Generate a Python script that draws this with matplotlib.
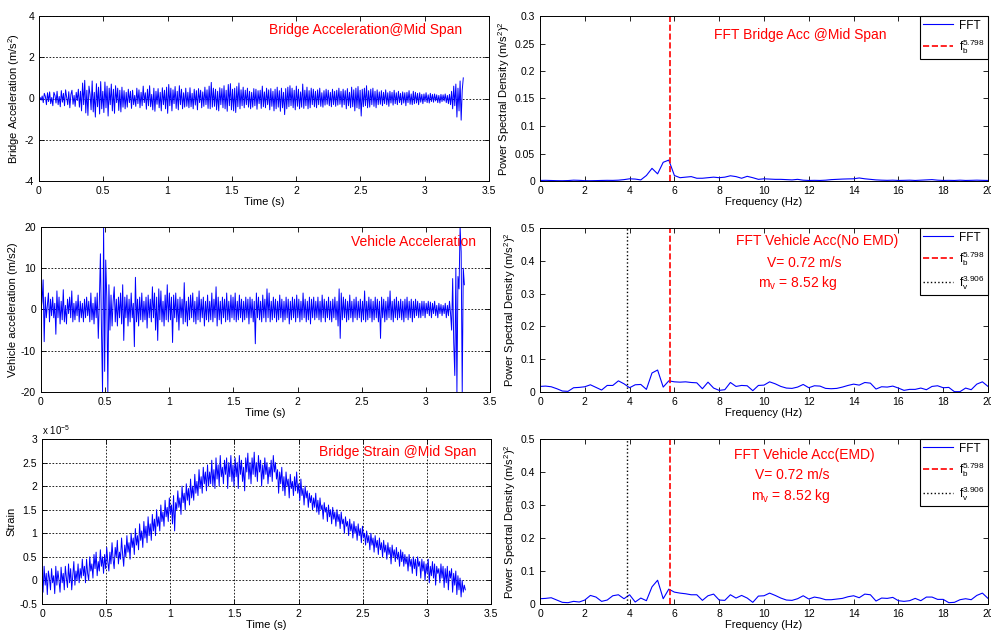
import numpy as np
import matplotlib
matplotlib.use("Agg")
import matplotlib.pyplot as plt
from matplotlib.ticker import FuncFormatter

plt.rcParams['font.family'] = ['Liberation Sans', 'DejaVu Sans']
plt.rcParams['mathtext.default'] = 'regular'

# time signals, 400 samples over 0..3.3 s
bridge_acc = [
    0.0, 0.05, -0.08, 0.12, -0.2, 0.25, 0.1, -0.3, 0.28, -0.15, 0.32, -0.25, 0.05, -0.35, 0.3, 0.15, -0.22, 0.35, -0.3, 0.1,
    -0.4, 0.38, -0.18, 0.25, -0.35, 0.42, 0.05, -0.3, 0.33, -0.45, 0.2, 0.4, -0.28, 0.15, -0.38, 0.3, -0.1, 0.45, -0.42, 0.35,
    -0.6, 0.75, -0.3, 0.88, -0.7, 0.4, -0.82, 0.6, 0.2, -0.55, 0.85, -0.65, 0.3, -0.9, 0.72, -0.4, 0.55, -0.75, 0.82, -0.5,
    0.35, -0.68, 0.8, -0.45, 0.6, -0.85, 0.5, -0.3, 0.7, -0.6, 0.45, -0.72, 0.62, -0.2, 0.5, -0.58, 0.4, -0.65, 0.55, -0.42,
    0.38, -0.5, 0.3, -0.42, 0.45, -0.2, 0.35, -0.48, 0.4, -0.3, 0.15, -0.38, 0.5, -0.25, 0.42, -0.45, 0.3, -0.35, 0.6, -0.2,
    0.28, -0.52, 0.45, -0.35, 0.62, -0.4, 0.2, -0.55, 0.5, -0.62, 0.35, -0.28, 0.48, -0.45, 0.3, -0.6, 0.52, -0.3, 0.4, -0.5,
    0.55, -0.72, 0.68, -0.35, 0.5, -0.6, 0.42, -0.25, 0.58, -0.48, 0.35, -0.55, 0.62, -0.3, 0.45, -0.5, 0.28, -0.42, 0.5, -0.38,
    0.3, -0.45, 0.52, -0.4, 0.25, -0.5, 0.45, -0.32, 0.38, -0.55, 0.48, -0.2, 0.4, -0.45, 0.32, -0.38, 0.55, -0.3, 0.42, -0.48,
    0.6, -0.5, 0.78, -0.42, 0.5, -0.38, 0.45, -0.55, 0.35, -0.6, 0.52, -0.3, 0.48, -0.45, 0.62, -0.5, 0.4, -0.62, 0.68, -0.35,
    0.72, -0.55, 0.45, -0.6, 0.5, -0.68, 0.58, -0.4, 0.75, -0.5, 0.42, -0.35, 0.55, -0.45, 0.4, -0.3, 0.5, -0.42, 0.35, -0.5,
    0.3, -0.42, 0.48, -0.35, 0.45, -0.52, 0.38, -0.25, 0.4, -0.48, 0.6, -0.4, 0.32, -0.45, 0.5, -0.3, 0.42, -0.55, 0.48, -0.38,
    0.35, -0.6, 0.45, -0.5, 0.55, -0.42, 0.38, -0.62, 0.5, -0.45, 0.3, -0.78, 0.48, -0.5, 0.55, -0.4, 0.62, -0.35, 0.5, -0.45,
    0.4, -0.55, 0.6, -0.38, 0.45, -0.5, 0.32, -0.42, 0.7, -0.48, 0.4, -0.35, 0.55, -0.5, 0.38, -0.45, 0.5, -0.3, 0.45, -0.4,
    0.35, -0.45, 0.42, -0.3, 0.5, -0.38, 0.28, -0.42, 0.38, -0.32, 0.45, -0.28, 0.4, -0.35, 0.3, -0.4, 0.45, -0.3, 0.35, -0.38,
    0.4, -0.32, 0.5, -0.28, 0.35, -0.42, 0.45, -0.3, 0.38, -0.5, 0.48, -0.35, 0.3, -0.45, 0.55, -0.4, 0.42, -0.6, 0.5, -0.45,
    0.58, -0.5, 0.4, -0.85, 0.45, -0.4, 0.5, -0.35, 0.62, -0.45, 0.38, -0.42, 0.45, -0.3, 0.5, -0.38, 0.35, -0.45, 0.42, -0.3,
    0.32, -0.28, 0.38, -0.35, 0.3, -0.25, 0.42, -0.3, 0.28, -0.38, 0.35, -0.22, 0.3, -0.32, 0.4, -0.25, 0.28, -0.3, 0.35, -0.2,
    0.25, -0.3, 0.32, -0.22, 0.28, -0.35, 0.3, -0.2, 0.38, -0.28, 0.22, -0.3, 0.35, -0.25, 0.3, -0.22, 0.25, -0.3, 0.28, -0.18,
    0.2, -0.25, 0.22, -0.15, 0.28, -0.2, 0.18, -0.22, 0.25, -0.15, 0.2, -0.18, 0.22, -0.12, 0.18, -0.2, 0.15, -0.22, 0.2, -0.15,
    0.18, -0.12, 0.22, -0.2, 0.15, -0.25, 0.2, -0.3, 0.35, -0.5, 0.6, -0.35, 0.7, -0.9, 0.5, -0.6, 0.85, -1.05, 0.4, 1.0,
]

vehicle_acc = [
    0, 2, 7.2, -7.8, 3, -2, 1, 4, -3, 2.5, -1.5, 3, -2, 1.5, -6, 4.5, -2, 3, -3.5, 2,
    -2.5, 4.8, -3, 1, -3.5, 2.5, -1, 3, -2, 4.5, -3, 1.5, -2.5, 2, -1.5, 3.5, -3, 2, -2, 1.5,
    -3, 2.5, -2, 3, -1.5, 2, -3, 4, -2.5, 1.5, -3.5, 3, -2, 4, -7, 2, 13.5, -5, -20, 20,
    -15, 12, 3, -20, 6, -5, 3.5, -4, 2, 5.5, -3, 2.5, -4, 3, -2, 4, -3.5, 6, -7.5, 3,
    -2, 3.5, -4, 2.5, -3, 4, -2, 1.5, -9, 7.8, -3, 2.5, -4, 3, -2.5, 4, -3, 2, -2.5, 3,
    -4.5, 3.5, -2, 2.5, -3, 5.5, -2, 4, -5, 3, -7.5, 5, -2.5, 4.5, -3, 2, -4, 3.5, -2.5, 6,
    -3, 4, -2.5, 3, -8, 3.5, -2, 4, -3, 2.5, -5, 3, -2, 2.5, -3.5, 6.5, -3, 2, -4, 3,
    -2.5, 3.5, -2, 4, -3, 2, -3.5, 3, -2.5, 4.5, -3, 2.5, -2, 3, -4, 2, -2.5, 3.5, -3, 2,
    -2.5, 4, -3, 2.5, -2, 5.5, -4, 3, -2.5, 2, -3.5, 3, -2, 2.5, -3, 4, -2.5, 2, -3, 3.5,
    -2, 3, -2.5, 4, -3, 2, -2.5, 3.5, -2, 2.5, -3, 2, -2.5, 3, -2, 2.5, -3.5, 3, -2, 2.5,
    -3, 2, -8.3, 4, -2, 3, -2.5, 2, -3, 3.5, -2, 2.5, -3, 5, -2, 4, -3, 2, -2.5, 3,
    -2, 2.5, -3, 2, -2.5, 3.5, -2, 2.5, -3, 2, -2.5, 3, -2, 2.5, -3.5, 2, -2.5, 3, -2, 2.5,
    -3, 3.5, -2, 2.5, -3, 2, -2.5, 4, -2, 2.5, -3, 2, -2.5, 3, -3.5, 2.5, -2, 3, -2.5, 2,
    -2, 3, -2.5, 2, -3, 3.5, -2, 2.5, -3, 2, -2, 3, -2.5, 2, -3, 2.5, -2, 3, -2.5, 2,
    -4, 5, -7, 4, -2.5, 3, -2, 2.5, -3, 2, -2.5, 3.5, -2, 2, -3, 2.5, -2, 3, -2.5, 2,
    -2, 2.5, -3, 2, -2.5, 4.5, -3, 2, -2.5, 3, -2, 2.5, -3, 2, -2.5, 3, -2, 2.5, -3, 2,
    -7, 3, -2, 2.5, -3, 2, -2.5, 3, -2, 4.5, -2.5, 2, -3, 2.5, -2, 3, -2.5, 2, -2, 2.5,
    -2.5, 2, -3, 2.5, -2, 3, -2.5, 2, -2, 2.5, -3, 2, -2, 2.5, -1.5, 2, -2, 1.5, -2, 2,
    -1.5, 2, -2, 1.5, -1, 2, -1.5, 1.8, -2, 1.5, -1, 2, -1.5, 1, -2, 1.5, -1, 1.2, -1.5, 1,
    -1, 1.5, -2, 1, -1.5, 2, -1, -5, 7.5, -8, -16, 10, -20, 8, 5, 20, 14, -20, 10, 6,
]

# strain in units of 1e-5
strain_e5 = [
    0.0, -0.25, 0.3, -0.1, 0.15, -0.3, 0.2, 0.05, -0.2, 0.25, -0.05, 0.1, -0.28, 0.3, -0.1, 0.2, 0.0, -0.25, 0.28, -0.05,
    0.15, -0.2, 0.3, 0.05, -0.15, 0.35, -0.05, 0.25, -0.2, 0.1, 0.4, -0.1, 0.2, 0.0, 0.35, -0.05, 0.25, 0.05, 0.45, 0.1,
    0.3, -0.05, 0.45, 0.15, 0.0, 0.5, 0.2, 0.35, 0.05, 0.55, 0.25, 0.6, 0.1, 0.4, 0.2, 0.65, 0.3, 0.5, 0.15, 0.55,
    0.25, 0.7, 0.4, 0.2, 0.6, 0.35, 0.8, 0.45, 0.25, 0.7, 0.5, 0.85, 0.35, 0.6, 0.45, 0.9, 0.55, 0.3, 0.75, 0.5,
    0.95, 0.6, 0.8, 0.45, 1.0, 0.7, 0.9, 0.55, 1.1, 0.75, 0.95, 0.65, 1.2, 0.85, 1.05, 0.7, 1.25, 0.9, 1.15, 0.8,
    1.35, 0.95, 1.2, 0.85, 1.4, 1.05, 1.3, 0.95, 1.5, 1.15, 1.35, 1.05, 1.6, 1.25, 1.45, 1.15, 1.7, 1.35, 1.55, 1.25,
    1.75, 1.4, 1.6, 1.2, 1.8, 1.05, 1.65, 1.5, 1.9, 1.55, 1.75, 1.4, 2.0, 1.65, 1.85, 1.5, 2.05, 1.7, 1.95, 1.6,
    2.15, 1.75, 2.0, 1.7, 2.25, 1.85, 2.1, 1.8, 2.35, 1.95, 2.2, 1.85, 2.4, 2.05, 2.3, 1.9, 2.45, 2.0, 2.3, 2.05,
    2.55, 2.0, 2.35, 1.95, 2.6, 2.15, 2.45, 2.0, 2.65, 2.2, 2.4, 2.05, 2.55, 2.25, 2.6, 1.95, 2.5, 2.2, 2.65, 2.1,
    2.45, 2.0, 2.6, 2.2, 2.5, 1.95, 2.65, 2.25, 2.55, 2.1, 2.4, 1.9, 2.6, 2.3, 2.7, 2.15, 2.5, 2.05, 2.6, 2.25,
    2.72, 2.2, 2.5, 2.1, 2.65, 2.3, 2.55, 2.0, 2.45, 2.15, 2.6, 2.25, 2.5, 2.05, 2.4, 2.2, 2.55, 2.1, 2.65, 2.3,
    2.5, 2.15, 2.35, 1.85, 2.3, 2.05, 2.4, 1.9, 2.2, 1.8, 2.3, 2.0, 2.15, 1.75, 2.25, 1.95, 2.1, 1.8, 2.2, 1.9,
    2.3, 1.85, 2.05, 1.7, 2.15, 1.8, 1.95, 1.6, 2.0, 1.75, 1.9, 1.55, 1.85, 1.65, 1.8, 1.5, 1.75, 1.55, 1.85, 1.45,
    1.7, 1.4, 1.75, 1.5, 1.6, 1.3, 1.65, 1.45, 1.55, 1.25, 1.6, 1.35, 1.5, 1.2, 1.55, 1.3, 1.45, 1.15, 1.5, 1.25,
    1.4, 1.1, 1.45, 1.2, 1.3, 1.0, 1.35, 1.15, 1.25, 0.95, 1.3, 1.05, 1.2, 0.9, 1.25, 1.0, 1.15, 0.85, 1.2, 0.95,
    1.1, 0.8, 1.15, 0.9, 1.0, 0.75, 1.05, 0.8, 0.95, 0.65, 1.0, 0.75, 0.9, 0.6, 0.95, 0.7, 0.85, 0.55, 0.9, 0.65,
    0.8, 0.5, 0.85, 0.6, 0.75, 0.45, 0.8, 0.55, 0.7, 0.35, 0.75, 0.5, 0.65, 0.4, 0.7, 0.45, 0.6, 0.3, 0.65, 0.4,
    0.6, 0.3, 0.55, 0.35, 0.5, 0.2, 0.55, 0.3, 0.45, 0.15, 0.5, 0.25, 0.45, 0.1, 0.5, 0.3, 0.4, 0.05, 0.45, 0.2,
    0.4, 0.0, 0.35, 0.15, 0.45, -0.05, 0.3, 0.1, 0.4, 0.05, 0.35, -0.1, 0.3, 0.15, 0.25, -0.05, 0.35, 0.05, 0.3, -0.15,
    0.25, -0.05, 0.3, -0.2, 0.2, 0.05, 0.25, -0.25, 0.15, -0.1, 0.2, -0.3, 0.1, -0.2, 0.05, -0.35, 0.0, -0.25, -0.1, -0.2,
]

# spectra, 0.25 Hz bins from 0 to 20 Hz
psd_bridge = [
    0.001, 0.0012, 0.0009, 0.0006,
    0.0005, 0.0008, 0.0015, 0.0012,
    0.0006, 0.0005, 0.0007, 0.001,
    0.0012, 0.0011, 0.0015, 0.0025,
    0.004, 0.0035, 0.002, 0.01,
    0.023, 0.013, 0.034, 0.038,
    0.01, 0.006, 0.007, 0.008,
    0.005, 0.005, 0.006, 0.007,
    0.006, 0.007, 0.0095, 0.008,
    0.005, 0.0085, 0.006, 0.003,
    0.004, 0.0035, 0.003, 0.003,
    0.0025, 0.002, 0.003, 0.0015,
    0.001, 0.0012, 0.001, 0.0015,
    0.0025, 0.003, 0.0035, 0.0038,
    0.004, 0.0055, 0.004, 0.003,
    0.002, 0.0015, 0.0012, 0.0015,
    0.001, 0.0012, 0.0015, 0.001,
    0.0015, 0.002, 0.0025, 0.0015,
    0.001, 0.0012, 0.001, 0.0015,
    0.001, 0.0012, 0.0015, 0.0012,
    0.001,
]

psd_veh_noemd = [
    0.017, 0.018, 0.016, 0.01,
    0.003, 0.002, 0.013, 0.014,
    0.016, 0.022, 0.014, 0.006,
    0.02, 0.02, 0.034, 0.025,
    0.013, 0.022, 0.023, 0.008,
    0.058, 0.067, 0.015, 0.034,
    0.031, 0.03, 0.031, 0.029,
    0.028, 0.01, 0.03, 0.012,
    0.005, 0.007, 0.029, 0.017,
    0.02, 0.019, 0.004, 0.02,
    0.021, 0.031, 0.025, 0.017,
    0.012, 0.011, 0.015, 0.023,
    0.013, 0.019, 0.018, 0.011,
    0.01, 0.011, 0.015, 0.02,
    0.024, 0.021, 0.029, 0.027,
    0.009, 0.016, 0.015, 0.018,
    0.012, 0.005, 0.008, 0.008,
    0.012, 0.007, 0.017, 0.019,
    0.013, 0.014, 0.001, 0.001,
    0.012, 0.007, 0.024, 0.031,
    0.017,
]

psd_veh_emd = [
    0.016, 0.017, 0.019, 0.012,
    0.005, 0.004, 0.008, 0.006,
    0.012, 0.026, 0.021, 0.008,
    0.012, 0.025, 0.028, 0.016,
    0.028, 0.006, 0.018, 0.01,
    0.052, 0.072, 0.016, 0.045,
    0.036, 0.033, 0.031, 0.028,
    0.028, 0.011, 0.025, 0.03,
    0.012, 0.011, 0.028, 0.018,
    0.026, 0.018, 0.005, 0.024,
    0.025, 0.033, 0.026, 0.018,
    0.012, 0.011, 0.016, 0.025,
    0.015, 0.021, 0.018, 0.013,
    0.013, 0.015, 0.017, 0.022,
    0.025, 0.019, 0.03, 0.028,
    0.009, 0.018, 0.017, 0.02,
    0.01, 0.008, 0.01, 0.017,
    0.01, 0.021, 0.021, 0.014,
    0.014, 0.004, 0.005, 0.013,
    0.016, 0.013, 0.026, 0.033,
    0.017,
]

f_bridge = 5.798
f_vehicle = 3.906

t = np.linspace(0, 3.3, len(bridge_acc))
strain = np.array(strain_e5) * 1e-5
freq = np.arange(len(psd_bridge)) * 0.25

W, H = 991, 633
fig = plt.figure(figsize=(W / 100, H / 100), dpi=100)


def box(l, r, top, bot):
    return [l / W, (H - bot) / H, (r - l) / W, (bot - top) / H]


def style(ax):
    ax.tick_params(direction='in', top=True, right=True, labelsize=7.5, length=3.5, width=0.6)
    for s in ax.spines.values():
        s.set_linewidth(0.7)
    ax.xaxis.set_major_formatter(FuncFormatter(lambda v, p: '%g' % round(v, 4)))
    ax.yaxis.set_major_formatter(FuncFormatter(lambda v, p: '%g' % round(v, 4)))


gridkw = dict(color='black', linestyle=(0, (2, 2)), linewidth=0.6)
blue = '#0000FF'
red = '#FF0000'
lab = 8

# bridge acceleration
ax1 = fig.add_axes(box(39, 489, 16, 181))
ax1.plot(t, bridge_acc, color=blue, lw=0.7)
ax1.set_xlim(0, 3.5)
ax1.set_ylim(-4, 4)
ax1.set_xticks(np.arange(0, 3.6, 0.5))
ax1.set_yticks([-4, -2, 0, 2, 4])
ax1.yaxis.grid(True, **gridkw)
style(ax1)
ax1.set_xlabel('Time (s)', fontsize=lab, labelpad=1)
ax1.set_ylabel('Bridge Acceleration (m/s$^2$)', fontsize=lab, labelpad=2)
ax1.text(2.54, 3.32, 'Bridge Acceleration@Mid Span', color=red, fontsize=10, ha='center', va='center')

# vehicle acceleration
ax2 = fig.add_axes(box(41, 490, 227, 392))
ax2.plot(t, vehicle_acc, color=blue, lw=0.7)
ax2.set_xlim(0, 3.5)
ax2.set_ylim(-20, 20)
ax2.set_xticks(np.arange(0, 3.6, 0.5))
ax2.set_yticks([-20, -10, 0, 10, 20])
ax2.yaxis.grid(True, **gridkw)
style(ax2)
ax2.set_xlabel('Time (s)', fontsize=lab, labelpad=1)
ax2.set_ylabel('Vehicle acceleration (m/s2)', fontsize=lab, labelpad=2)
ax2.text(2.9, 16.4, 'Vehicle Acceleration', color=red, fontsize=10, ha='center', va='center')

# strain
ax3 = fig.add_axes(box(42, 491, 439, 604))
ax3.plot(t, strain, color=blue, lw=0.7)
ax3.set_xlim(0, 3.5)
ax3.set_ylim(-0.5e-5, 3e-5)
ax3.set_xticks(np.arange(0, 3.6, 0.5))
ax3.set_yticks(np.arange(-0.5, 3.01, 0.5) * 1e-5)
ax3.grid(True, **gridkw)
style(ax3)
ax3.yaxis.set_major_formatter(FuncFormatter(lambda v, p: '%g' % round(v / 1e-5, 3)))
ax3.text(0.0, 1.015, r'x 10$^{-5}$', transform=ax3.transAxes, fontsize=7, va='bottom')
ax3.set_xlabel('Time (s)', fontsize=lab, labelpad=1)
ax3.set_ylabel('Strain', fontsize=lab, labelpad=2)
ax3.text(2.775, 2.72e-5, 'Bridge Strain @Mid Span', color=red, fontsize=10, ha='center', va='center')

psd_label = 'Power Spectral Density (m/s$^2$)$^2$'
legkw = dict(loc='upper right', fontsize=8.5, fancybox=False, framealpha=1, edgecolor='black',
             borderaxespad=0, handlelength=2.5, borderpad=0.3, labelspacing=0.45, handletextpad=0.5)

# bridge spectrum
ax4 = fig.add_axes(box(540, 988, 16, 181))
ax4.plot(freq, psd_bridge, color=blue, lw=0.8, label='FFT')
ax4.axvline(f_bridge, color=red, ls='--', lw=1.2, label=r'$f_b^{5.798}$')
ax4.set_xlim(0, 20)
ax4.set_ylim(0, 0.3)
ax4.set_xticks(np.arange(0, 21, 2))
ax4.set_yticks(np.arange(0, 0.31, 0.05))
style(ax4)
ax4.set_xlabel('Frequency (Hz)', fontsize=lab, labelpad=1)
ax4.set_ylabel(psd_label, fontsize=lab, labelpad=2)
ax4.text(11.6, 0.2655, 'FFT Bridge Acc @Mid Span', color=red, fontsize=10, ha='center', va='center')
ax4.legend(**legkw).get_frame().set_linewidth(0.8)

# vehicle spectra
for top, bot, psd, title, tx, ty in [
    (228, 392, psd_veh_noemd, 'FFT Vehicle Acc(No EMD)', [12.37, 11.8, 11.5], [0.461, 0.392, 0.331]),
    (439, 604, psd_veh_emd, 'FFT Vehicle Acc(EMD)', [11.8, 11.24, 11.2], [0.4515, 0.391, 0.327]),
]:
    ax = fig.add_axes(box(540, 988, top, bot))
    ax.plot(freq, psd, color=blue, lw=0.8, label='FFT')
    ax.axvline(f_bridge, color=red, ls='--', lw=1.2, label=r'$f_b^{5.798}$')
    ax.axvline(f_vehicle, color='black', ls=':', lw=1.0, label=r'$f_v^{3.906}$')
    ax.set_xlim(0, 20)
    ax.set_ylim(0, 0.5)
    ax.set_xticks(np.arange(0, 21, 2))
    ax.set_yticks(np.arange(0, 0.51, 0.1))
    style(ax)
    ax.set_xlabel('Frequency (Hz)', fontsize=lab, labelpad=1)
    ax.set_ylabel(psd_label, fontsize=lab, labelpad=2)
    ax.text(tx[0], ty[0], title, color=red, fontsize=10, ha='center', va='center')
    ax.text(tx[1], ty[1], 'V= 0.72 m/s', color=red, fontsize=10, ha='center', va='center')
    ax.text(tx[2], ty[2], 'm$_v$ = 8.52 kg', color=red, fontsize=10, ha='center', va='center')
    ax.legend(**legkw).get_frame().set_linewidth(0.8)

fig.savefig('out.png', dpi=100)
